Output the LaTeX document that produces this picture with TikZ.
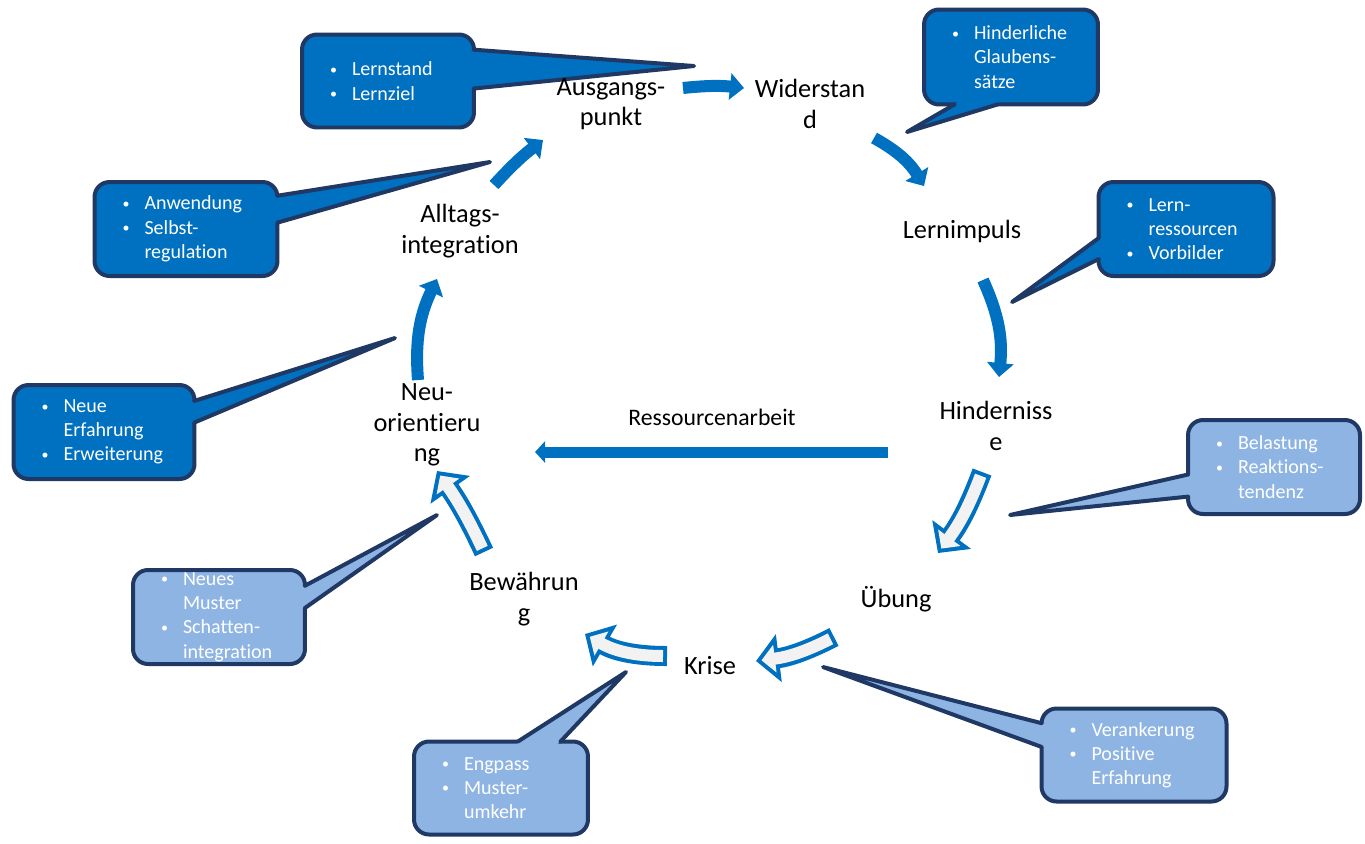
\documentclass[tikz,border=0pt]{standalone}
\usepackage{fontspec}
\usepackage{graphicx}
\setmainfont{Carlito}[Ligatures=NoCommon]
\usetikzlibrary{arrows.meta,calc}
\setlength{\parindent}{0pt}

\definecolor{dblue}{RGB}{0,112,192}
\definecolor{lblue}{RGB}{142,180,227}
\definecolor{navy}{RGB}{32,56,100}
\definecolor{pale}{RGB}{242,242,242}

\newcommand{\itm}{\makebox[0.44cm][l]{\raisebox{0.15ex}{\scalebox{0.7}{\textbullet}}}}
\newcommand{\ind}{\hspace*{0.44cm}}
% tail of a callout: box, colour, base a, tip, base b
\newcommand{\calltail}[5]{%
  \fill[#2] (#3) -- (#4) -- (#5) -- ($(#5)!.12!(#1.center)$) -- ($(#3)!.12!(#1.center)$) -- cycle;
  \draw[rim] (#3) -- (#4) -- (#5);}

\tikzset{
  stage/.style={align=center, inner sep=0pt, font=\fontsize{15}{17.2}\selectfont},
  note/.style={fill=#1, draw=navy, line width=0.08cm, rounded corners=0.3cm,
    outer sep=0pt, inner xsep=0.56cm, inner ysep=0pt, text=white, align=left,
    font=\fontsize{11.4}{13.8}\selectfont},
  rim/.style={draw=navy, line width=0.08cm, line cap=round, line join=round},
  solidflow/.style={draw=dblue, line width=0.24cm, -{Triangle[width=0.52cm,length=0.28cm]}},
  hollowout/.style={draw=dblue, line width=0.4cm, -{Triangle[width=0.94cm,length=0.46cm]}},
  hollowin/.style={draw=pale, line width=0.24cm, shorten <=0.08cm, shorten >=0.11cm,
    -{Triangle[width=0.54cm,length=0.27cm]}}
}

\begin{document}
\begin{tikzpicture}[x=0.02cm, y=-0.02cm]
\useasboundingbox (0,0) rectangle (1365,843);

% callouts
\node[note=dblue, text width=2.32cm, minimum height=1.86cm] (lernstand) at (388,81)
  {\itm Lernstand\\\itm Lernziel};
\node[note=dblue, text width=2.36cm, minimum height=1.9cm] (glauben) at (1011,57)
  {\itm Hinderliche\\\ind Glaubens-\\\ind sätze};
\node[note=dblue, text width=2.38cm, minimum height=1.88cm] (vorbild) at (1186,229)
  {\itm Lern-\\\ind ressourcen\\\itm Vorbilder};
\node[note=dblue, text width=2.54cm, minimum height=1.88cm] (anwendung) at (186,229)
  {\itm Anwendung\\\itm Selbst-\\\ind regulation};
\node[note=dblue, text width=2.5cm, minimum height=1.88cm] (erfahrung) at (104,432)
  {\itm Neue\\\ind Erfahrung\\\itm Erweiterung};
\node[note=lblue, text width=2.32cm, minimum height=1.88cm] (muster) at (219,617)
  {\itm Neues\\\ind Muster\\\itm Schatten-\\\ind integration};
\node[note=lblue, text width=2.36cm, minimum height=1.86cm] (engpass) at (501,788)
  {\itm Engpass\\\itm Muster-\\\ind umkehr};
\node[note=lblue, text width=2.58cm, minimum height=1.86cm] (verankerung) at (1134,755)
  {\itm Verankerung\\\itm Positive\\\ind Erfahrung};
\node[note=lblue, text width=2.32cm, minimum height=1.88cm] (belastung) at (1274,467)
  {\itm Belastung\\\itm Reaktions-\\\ind tendenz};

\foreach \n/\x/\y in {t1/694/66, t2/907/132, t3/1012/302, t4/490/162, t5/395/338,
    t6/437/515, t7/626/672, t8/823/667, t9/1010/515}
  \coordinate (\n) at (\x,\y);

\calltail{lernstand}{dblue}{lernstand.20}{t1}{lernstand.355}
\calltail{glauben}{dblue}{glauben.220}{t2}{glauben.254}
\calltail{vorbild}{dblue}{vorbild.186}{t3}{vorbild.199}
\calltail{anwendung}{dblue}{anwendung.20}{t4}{anwendung.4}
\calltail{erfahrung}{dblue}{erfahrung.19}{t5}{erfahrung.6}
\calltail{muster}{lblue}{muster.20}{t6}{muster.6}
\calltail{engpass}{lblue}{engpass.70}{t7}{engpass.38}
\calltail{verankerung}{lblue}{verankerung.161}{t8}{verankerung.175}
\calltail{belastung}{lblue}{belastung.185}{t9}{belastung.199}

% arrow ends
\foreach \n/\x/\y in {a1/683/88, b1/744/88, a2/874/138, b2/924/186, a3/983/280, b3/999/377,
    a4/982/472, b4/938/553, a5/834/637, b5/756/661, a6/667/656, b6/585/634,
    a7/484/552, b7/437/471, a8/418/380, b8/437/279, a9/494/185, b9/543/140,
    ar/888/452, br/535/452}
  \coordinate (\n) at (\x,\y);

\draw[solidflow] (a1) to[bend left=6] (b1);
\draw[solidflow] (a2) to[bend left=15] (b2);
\draw[solidflow] (a3) to[bend left=15] (b3);
\foreach \s/\t/\b in {a4/b4/8, a5/b5/10, a6/b6/15, a7/b7/-5} {
  \draw[hollowout] (\s) to[bend left=\b] (\t);
  \draw[hollowin] (\s) to[bend left=\b] (\t);
}
\draw[solidflow] (a8) to[bend left=15] (b8);
\draw[solidflow] (a9) to[bend left=5] (b9);
\draw[solidflow, line width=0.22cm, -{Triangle[width=0.42cm,length=0.2cm]}] (ar) -- (br);

% stages of the cycle
\node[stage] (ausgang) at (611,104) {Ausgangs-\\punkt};
\node[stage] (widerstand) at (810,104) {Widerstan\\d};
\node[stage] (impuls) at (962,231) {Lernimpuls};
\node[stage] (hindernis) at (996,426) {Hinderniss\\e};
\node[stage] (uebung) at (896,599) {Übung};
\node[stage] (krise) at (710,666) {Krise};
\node[stage] (bewaehrung) at (524,599) {Bewährun\\g};
\node[stage] (neuorient) at (427,425) {Neu-\\orientieru\\ng};
\node[stage] (alltag) at (460,231) {Alltags-\\integration};
\node[font=\fontsize{13.5}{15}\selectfont] (ressourcen) at (712,417) {Ressourcenarbeit};
\end{tikzpicture}
\end{document}
